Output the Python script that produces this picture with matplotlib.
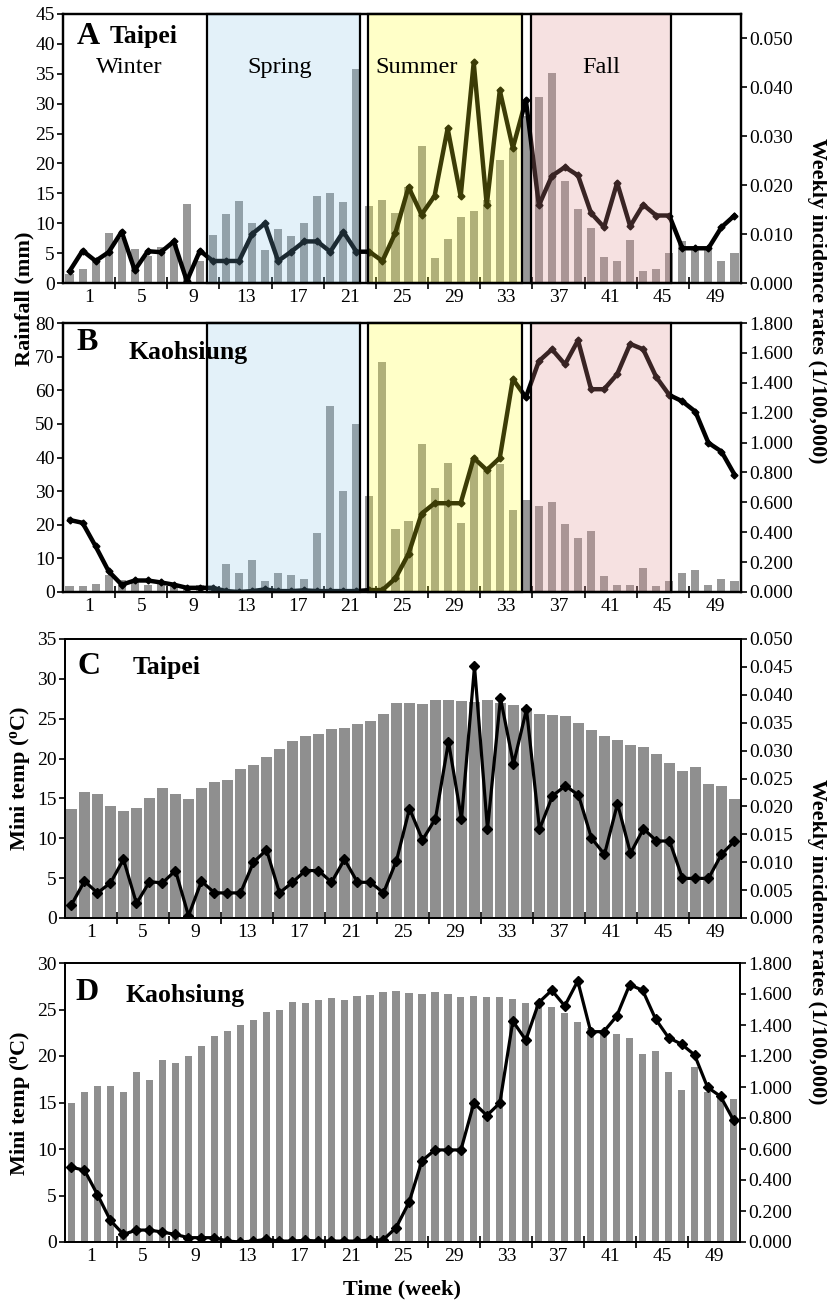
import matplotlib
matplotlib.use('Agg')
import matplotlib.pyplot as plt
from matplotlib.patches import Rectangle
from matplotlib.ticker import FixedLocator, FixedFormatter, NullFormatter, FormatStrFormatter
import numpy as np

plt.rcParams['font.family'] = ['Liberation Serif', 'DejaVu Serif']
plt.rcParams['mathtext.fontset'] = 'custom'
plt.rcParams['mathtext.rm'] = 'Liberation Serif'
plt.rcParams['mathtext.bf'] = 'Liberation Serif:bold'

# ---------------- data ----------------
weeks = np.arange(52)
week_labels = ['1', '5', '9', '13', '17', '21', '25', '29', '33', '37', '41', '45', '49']

rain_taipei = [1.5, 2.4, 4.2, 8.3, 7.5, 5.7, 4.5, 6.0, 6.5, 13.2, 3.6, 8.0, 11.5,
               13.8, 10.1, 5.5, 9.0, 7.8, 10.0, 14.5, 15.0, 13.6, 35.8, 12.9, 13.9,
               11.7, 16.0, 23.0, 4.1, 7.3, 11.1, 12.0, 13.9, 20.6, 22.4, 28.0, 31.1,
               35.2, 17.0, 12.3, 9.2, 4.4, 3.7, 7.2, 2.0, 2.3, 5.0, 7.0, 5.5, 5.5,
               3.6, 5.0]
rain_kaohsiung = [1.8, 1.8, 2.5, 5.0, 3.5, 3.0, 2.0, 3.0, 2.5, 1.5, 2.0, 1.5, 8.4,
                  5.7, 9.6, 3.3, 5.7, 5.0, 3.8, 17.4, 55.4, 30.0, 50.1, 28.6, 68.3,
                  18.6, 21.0, 44.0, 30.9, 38.4, 20.5, 40.0, 36.0, 38.2, 24.5, 27.5,
                  25.6, 26.8, 20.1, 16.2, 18.1, 4.9, 2.2, 2.2, 7.2, 1.8, 3.2, 5.6,
                  6.4, 2.2, 3.8, 3.2]
inc_taipei = [0.0024, 0.0066, 0.0045, 0.0063, 0.0105, 0.0026, 0.0065, 0.0063, 0.0085,
              0.0004, 0.0066, 0.0045, 0.0045, 0.0045, 0.0100, 0.0122, 0.0045, 0.0064,
              0.0085, 0.0085, 0.0064, 0.0105, 0.0064, 0.0064, 0.0045, 0.0103, 0.0196,
              0.0140, 0.0178, 0.0316, 0.0177, 0.0451, 0.0159, 0.0394, 0.0276, 0.0374,
              0.0159, 0.0219, 0.0237, 0.0220, 0.0143, 0.0114, 0.0205, 0.0116, 0.0160,
              0.0138, 0.0138, 0.0071, 0.0071, 0.0071, 0.0114, 0.0138]
inc_kaohsiung = [0.482, 0.463, 0.306, 0.139, 0.049, 0.077, 0.077, 0.064, 0.049, 0.028,
                 0.028, 0.028, 0.006, 0.000, 0.006, 0.017, 0.006, 0.006, 0.011, 0.006,
                 0.006, 0.006, 0.006, 0.013, 0.013, 0.092, 0.255, 0.524, 0.594, 0.594,
                 0.594, 0.897, 0.816, 0.897, 1.425, 1.303, 1.545, 1.624, 1.523, 1.684,
                 1.357, 1.357, 1.457, 1.660, 1.624, 1.438, 1.318, 1.276, 1.207, 0.998,
                 0.940, 0.786]
temp_taipei = [13.7, 15.8, 15.5, 14.0, 13.4, 13.8, 15.1, 16.3, 15.6, 14.9, 16.3, 17.1,
               17.3, 18.7, 19.2, 20.2, 21.2, 22.2, 22.8, 23.1, 23.7, 23.8, 24.3, 24.7,
               25.6, 27.0, 27.0, 26.8, 27.4, 27.3, 27.2, 27.1, 27.3, 27.0, 26.7, 26.3,
               25.6, 25.5, 25.3, 24.4, 23.6, 22.8, 22.3, 21.7, 21.4, 20.6, 19.4, 18.4,
               19.0, 16.8, 16.6, 14.9]
temp_kaohsiung = [14.9, 16.1, 16.8, 16.8, 16.1, 18.3, 17.4, 19.6, 19.3, 20.0, 21.1, 22.2,
                  22.7, 23.3, 23.9, 24.7, 24.9, 25.8, 25.7, 26.0, 26.2, 26.0, 26.4, 26.6,
                  26.9, 27.0, 26.8, 26.7, 26.9, 26.7, 26.3, 26.5, 26.3, 26.3, 26.1, 25.7,
                  25.5, 25.3, 24.6, 23.7, 23.0, 22.6, 22.4, 21.9, 20.2, 20.5, 18.3, 16.3,
                  18.8, 16.1, 15.8, 15.4]

season_names = ['Spring', 'Summer', 'Fall']
season_starts = [10.55, 22.9, 35.4]
season_ends = [22.3, 34.7, 46.1]
season_colors = [((0.50, 0.765, 0.91), 0.22), ((1.0, 1.0, 0.10), 0.24), ((0.875, 0.557, 0.557), 0.26)]
season_text_x = {'Winter': 4.6, 'Spring': 16.1, 'Summer': 26.6, 'Fall': 40.8}

# ---------------- layout ----------------
W, H = 828, 1302
fig = plt.figure(figsize=(W / 100, H / 100), dpi=100)


def rect(l, t, r, b):
    return [l / W, 1 - b / H, (r - l) / W, (b - t) / H]


BAR_AB = '#989898'
BAR_CD = '#8f8f8f'
TICK_FS = 14
LETTER_FS = 23
CITY_FS = 18.5


def setup_x(ax):
    ax.set_xlim(-0.5, 51.5)
    ax.xaxis.set_major_locator(FixedLocator(np.arange(3.5, 51, 4)))
    ax.xaxis.set_major_formatter(NullFormatter())
    ax.xaxis.set_minor_locator(FixedLocator(np.arange(1.5, 52, 4)))
    ax.xaxis.set_minor_formatter(FixedFormatter(week_labels))
    ax.tick_params(axis='x', which='major', direction='inout', length=8, width=1.2)
    ax.tick_params(axis='x', which='minor', length=0, labelsize=TICK_FS, pad=4)


def setup_y(ax, ylim, step, fmt):
    ax.set_ylim(*ylim)
    ax.yaxis.set_major_locator(FixedLocator(np.arange(0, ylim[1] + 1e-9, step)))
    ax.yaxis.set_major_formatter(FormatStrFormatter(fmt))
    ax.tick_params(axis='y', direction='out', length=4, width=1.2, labelsize=TICK_FS, pad=2)


def spines(ax, lw):
    for s in ax.spines.values():
        s.set_linewidth(lw)
        s.set_color('black')


def season_boxes(ax2):
    tr = ax2.get_xaxis_transform()
    for x0, x1, (c, a) in zip(season_starts, season_ends, season_colors):
        ax2.add_patch(Rectangle((x0, 0), x1 - x0, 1, transform=tr, facecolor=(*c, a),
                                edgecolor='none', zorder=6, clip_on=False))
        ax2.add_patch(Rectangle((x0, 0), x1 - x0, 1, transform=tr, facecolor='none',
                                edgecolor='black', lw=1.6, zorder=7, clip_on=False))


def rain_panel(box, rain, inc, ylim_l, step_l, ylim_r, step_r, letter, city,
               letter_pos, city_pos, seasons_text):
    ax = fig.add_axes(rect(*box))
    ax.bar(weeks, rain, width=0.62, color=BAR_AB, zorder=2)
    setup_x(ax)
    setup_y(ax, ylim_l, step_l, '%d')
    ax2 = ax.twinx()
    ax2.plot(weeks, inc, color='black', lw=3.2, marker='D', ms=3.5, zorder=3)
    ax2.set_xlim(-0.5, 51.5)
    setup_y(ax2, ylim_r, step_r, '%.3f')
    season_boxes(ax2)
    spines(ax, 1.6)
    spines(ax2, 1.6)
    ax2.text(letter_pos[0], letter_pos[1], letter, transform=ax2.transAxes, fontsize=LETTER_FS,
             fontweight='bold', ha='left', va='center', zorder=10)
    ax2.text(city_pos[0], city_pos[1], city, transform=ax2.transAxes, fontsize=CITY_FS,
             fontweight='bold', ha='left', va='center', zorder=10)
    if seasons_text:
        for name, xk in season_text_x.items():
            ax2.text(xk, 0.80, name, transform=ax2.get_xaxis_transform(), fontsize=17.5,
                     ha='center', va='center', zorder=10)
    return ax, ax2


def temp_panel(box, temp, inc, width, ylim_l, step_l, ylim_r, step_r, letter, city,
               letter_pos, city_pos):
    ax = fig.add_axes(rect(*box))
    ax.bar(weeks, temp, width=width, color=BAR_CD, zorder=2)
    setup_x(ax)
    setup_y(ax, ylim_l, step_l, '%d')
    ax2 = ax.twinx()
    ax2.plot(weeks, inc, color='black', lw=2.3, marker='D', ms=5.5, zorder=3)
    ax2.set_xlim(-0.5, 51.5)
    setup_y(ax2, ylim_r, step_r, '%.3f')
    spines(ax, 1.3)
    spines(ax2, 1.3)
    ax2.text(letter_pos[0], letter_pos[1], letter, transform=ax2.transAxes, fontsize=LETTER_FS,
             fontweight='bold', ha='left', va='center', zorder=10)
    ax2.text(city_pos[0], city_pos[1], city, transform=ax2.transAxes, fontsize=CITY_FS,
             fontweight='bold', ha='left', va='center', zorder=10)
    return ax, ax2


# Panel A
rain_panel((63, 14, 741, 283), rain_taipei, inc_taipei, (0, 45), 5, (0, 0.055), 0.01,
           'A', 'Taipei', (0.020, 0.918), (0.069, 0.915), True)
# Panel B
rain_panel((63, 323, 741, 592), rain_kaohsiung, inc_kaohsiung, (0, 80), 10, (0, 1.8), 0.2,
           'B', 'Kaohsiung', (0.020, 0.926), (0.096, 0.892), False)
# Panel C
temp_panel((65, 639, 741, 918), temp_taipei, inc_taipei, 0.78, (0, 35), 5, (0, 0.05), 0.005,
           'C', 'Taipei', (0.018, 0.90), (0.10, 0.897))
# Panel D
temp_panel((65, 963, 740, 1242), temp_kaohsiung, inc_kaohsiung, 0.55, (0, 30), 5, (0, 1.8), 0.2,
           'D', 'Kaohsiung', (0.016, 0.896), (0.09, 0.885))

# Axis titles
fig.text(24 / W, 1 - 299 / H, 'Rainfall (mm)', rotation=90, ha='center', va='center',
         fontsize=16, fontweight='bold')
fig.text(20 / W, 1 - 778 / H, r'Mini temp ($\mathbf{^{o}}$C)', rotation=90, ha='center',
         va='center', fontsize=16, fontweight='bold')
fig.text(20 / W, 1 - 1103 / H, r'Mini temp ($\mathbf{^{o}}$C)', rotation=90, ha='center',
         va='center', fontsize=16, fontweight='bold')
fig.text(817 / W, 1 - 301 / H, 'Weekly incidence rates (1/100,000)', rotation=-90,
         ha='center', va='center', fontsize=15.8, fontweight='bold')
fig.text(817 / W, 1 - 942 / H, 'Weekly incidence rates (1/100,000)', rotation=-90,
         ha='center', va='center', fontsize=15.8, fontweight='bold')
fig.text(402 / W, 1 - 1289 / H, 'Time (week)', ha='center', va='center', fontsize=16,
         fontweight='bold')

fig.savefig('out.png', dpi=100)
